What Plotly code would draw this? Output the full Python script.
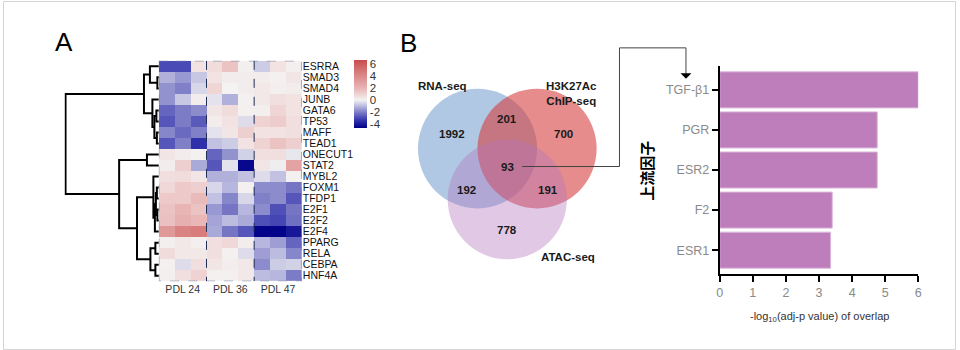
import plotly.graph_objects as go

W, H = 960, 350

# ---------------- data ----------------
genes = ["ESRRA", "SMAD3", "SMAD4", "JUNB", "GATA6", "TP53", "MAFF", "TEAD1",
         "ONECUT1", "STAT2", "MYBL2", "FOXM1", "TFDP1", "E2F1", "E2F2", "E2F4",
         "PPARG", "RELA", "CEBPA", "HNF4A"]
groups = ["PDL 24", "PDL 36", "PDL 47"]
z_vals = [
    [-3.0, -3.0, 0.5, 0.7, 1.5, 0.1, -0.7, 0.5, 0.1],      # ESRRA
    [-1.2, -1.6, -0.8, 0.5, 0.2, 0.2, 0.2, 0.05, 0.4],     # SMAD3
    [-1.7, -2.0, -0.5, 0.9, 0.0, 0.2, 0.3, 0.1, 0.2],      # SMAD4
    [-1.7, -0.8, 0.2, -0.3, -1.2, 0.05, 0.3, 0.6, 0.5],    # JUNB
    [-2.5, -2.1, -1.8, 0.4, 0.7, 0.05, 0.1, 0.9, 0.5],     # GATA6
    [-2.8, -2.1, -2.7, 0.2, 0.5, -0.4, 1.0, 1.2, 0.6],     # TP53
    [-1.9, -2.4, -2.0, -0.3, 0.4, 1.1, 0.5, 0.5, 0.6],     # MAFF
    [-2.8, -2.0, -3.5, -0.9, -0.7, 0.5, 1.0, 1.5, 1.1],    # TEAD1
    [0.4, 0.2, 0.05, -2.5, -1.7, -0.6, 0.6, 0.6, -0.2],    # ONECUT1
    [0.2, 1.1, -1.3, -2.8, -0.3, -4.5, 0.4, -0.1, 2.8],    # STAT2
    [0.6, 0.7, 0.4, -1.2, -1.2, -0.9, -0.4, -0.9, 0.05],   # MYBL2
    [0.8, 1.3, 1.1, -0.5, -1.1, 0.05, -1.8, -1.8, -2.2],   # FOXM1
    [1.3, 1.3, 1.8, -0.9, -1.9, -0.5, -2.0, -1.8, -2.8],   # TFDP1
    [1.5, 2.0, 1.5, -1.6, -2.2, -1.1, -1.8, -2.9, -2.2],   # E2F1
    [1.6, 2.2, 1.9, -1.4, -1.0, -1.3, -2.9, -3.1, -2.3],   # E2F2
    [3.3, 4.3, 4.6, -1.3, -2.2, -2.8, -4.6, -4.6, -4.1],   # E2F4
    [0.1, 0.3, 0.1, 0.6, 0.8, 0.2, -1.1, -1.5, -2.5],      # PPARG
    [0.7, 0.3, 0.3, 0.6, 0.05, -0.4, -1.5, -1.0, -1.9],    # RELA
    [0.05, -0.4, 0.6, 0.4, 0.15, 0.3, -1.8, -0.7, -0.6],   # CEBPA
    [0.1, 0.6, 1.0, 0.05, 0.05, 0.3, -1.0, -1.1, -2.1],    # HNF4A
]
colorbar_ticks = [-4, -2, 0, 2, 4, 6]
colorbar_labels = ["-4", "-2", "0", "2", "4", "6"]

# dendrogram merges: (node, child_a, child_b, height)
dendro_merges = [
    ("n1", "SMAD3", "SMAD4", 1.5),
    ("n2", "ESRRA", "n1", 9),
    ("n3", "GATA6", "TP53", 2.5),
    ("n4", "MAFF", "TEAD1", 2),
    ("n5", "n3", "n4", 4.5),
    ("n6", "JUNB", "n5", 6.5),
    ("n7", "n2", "n6", 15),
    ("m1", "ONECUT1", "STAT2", 12),
    ("r1", "FOXM1", "TFDP1", 2),
    ("r2", "E2F1", "E2F2", 1.5),
    ("r3", "r1", "r2", 3),
    ("r4", "r3", "E2F4", 4),
    ("r5", "MYBL2", "r4", 5.5),
    ("b1", "PPARG", "RELA", 3.5),
    ("b2", "CEBPA", "HNF4A", 3.5),
    ("b3", "b1", "b2", 8.5),
    ("m2", "r5", "b3", 22),
    ("m3", "m1", "m2", 40),
    ("root", "n7", "m3", 94),
]

venn_sets = ["RNA-seq", "H3K27Ac<br>ChIP-seq", "ATAC-seq"]
venn_counts = {"R": 1992, "RH": 201, "H": 700, "RHA": 93, "RA": 192, "HA": 191, "A": 778}

factors = ["TGF-β1", "PGR", "ESR2", "F2", "ESR1"]
neglogp = [6.0, 4.76, 4.76, 3.40, 3.35]
bar_ticks = [0, 1, 2, 3, 4, 5, 6]

FONT = "Arial, 'Liberation Sans', sans-serif"


def px_x(p):
    return p / W


def px_y(p):
    return 1 - p / H


fig = go.Figure()

# ---------------- heatmap ----------------
zmin, zmax = -4.7, 6.7


def cs(v):
    return (v - zmin) / (zmax - zmin)


colorscale = [
    [0.0, "#000088"],
    [cs(-3.6), "#2a2aa6"],
    [cs(-3.0), "#4a4ab6"],
    [cs(-2.0), "#8080c8"],
    [cs(-1.0), "#bcbce0"],
    [cs(0.0), "#f4f2f2"],
    [cs(1.0), "#efd2d2"],
    [cs(2.0), "#e8b4b4"],
    [cs(4.0), "#dc8a8a"],
    [1.0, "#c94c4c"],
]

fig.add_trace(go.Heatmap(
    z=z_vals, x=list(range(9)), y=list(range(len(genes))),
    colorscale=colorscale, zmin=zmin, zmax=zmax,
    xaxis="x", yaxis="y", hoverinfo="skip",
    colorbar=dict(
        x=px_x(354), xanchor="left", y=px_y(59), yanchor="top",
        len=68 / H, lenmode="fraction", thickness=13,
        tickvals=colorbar_ticks, ticktext=colorbar_labels, ticks="", outlinewidth=0,
        xpad=0, ypad=0, tickfont=dict(family=FONT, size=11.5, color="#333"),
    ),
))

# dendrogram
pos = {g: (i, 0.0) for i, g in enumerate(genes)}
dx, dy = [], []
for node, a, b, h in dendro_merges:
    ya, ha = pos[a]
    yb, hb = pos[b]
    dx += [ha, h, h, hb, None]
    dy += [ya, ya, yb, yb, None]
    pos[node] = ((ya + yb) / 2, h)
fig.add_trace(go.Scatter(x=dx, y=dy, mode="lines", xaxis="x2", yaxis="y2",
                         line=dict(color="black", width=2), hoverinfo="skip",
                         showlegend=False))

hm_top, hm_bot = 60, 281
layout_axes = dict(
    xaxis=dict(domain=[px_x(157), px_x(301)], range=[-0.5, 8.5], anchor="y",
               tickvals=[1, 4, 7], ticktext=groups, ticks="", showgrid=False,
               zeroline=False, showline=False,
               tickfont=dict(family=FONT, size=10.5, color="#333")),
    yaxis=dict(domain=[px_y(hm_bot), px_y(hm_top)], range=[len(genes) - 0.5, -0.5],
               anchor="x", side="right", tickvals=list(range(len(genes))),
               ticktext=genes, ticks="", showgrid=False, zeroline=False,
               tickfont=dict(family=FONT, size=10.5, color="#111")),
    xaxis2=dict(domain=[px_x(62), px_x(157)], range=[95, 0], anchor="y2",
                visible=False),
    yaxis2=dict(domain=[px_y(hm_bot), px_y(hm_top)], range=[len(genes) - 0.5, -0.5],
                anchor="x2", visible=False),
    xaxis3=dict(domain=[0, 1], range=[0, W], anchor="y3", visible=False),
    yaxis3=dict(domain=[0, 1], range=[H, 0], anchor="x3", visible=False),
    xaxis4=dict(domain=[px_x(722), px_x(922)], range=[0, 6], anchor="y4",
                tickvals=bar_ticks, showline=True, linecolor="black", linewidth=2,
                ticks="outside", ticklen=6, tickwidth=1.5, tickcolor="black",
                showgrid=False, zeroline=False,
                tickfont=dict(family=FONT, size=12.5, color="#8a8a8a")),
    yaxis4=dict(domain=[px_y(274), px_y(65)], range=[4.6, -0.6], anchor="x4",
                type="category", showline=True, linecolor="black", linewidth=2,
                ticks="outside", ticklen=6, tickwidth=1.5, tickcolor="black",
                showgrid=False, zeroline=False,
                tickfont=dict(family=FONT, size=12.5, color="#8a8a8a")),
)

shapes = []
# heatmap dashed frame and group separators
shapes.append(dict(type="rect", xref="x", yref="y", x0=-0.5, x1=8.5, y0=-0.5,
                   y1=len(genes) - 0.5, line=dict(color="#6f7f9f", width=1, dash="dash"),
                   layer="above"))
for sx in [2.5, 5.5]:
    shapes.append(dict(type="line", xref="x", yref="y", x0=sx, x1=sx, y0=-0.5,
                       y1=len(genes) - 0.5, line=dict(color="#1f2f55", width=1, dash="dash"),
                       layer="above"))

# ---------------- Venn ----------------
venn_circles = [  # cx, cy, r, fill
    (478, 148, 60, "rgba(97,145,201,0.5)"),
    (538, 148, 60, "rgba(213,63,63,0.6)"),
    (508, 199, 60, "rgba(180,118,188,0.4)"),
]
for cx, cy, r, col in venn_circles:
    shapes.append(dict(type="circle", xref="x3", yref="y3", x0=cx - r, x1=cx + r,
                       y0=cy - r, y1=cy + r, fillcolor=col, line=dict(width=0),
                       layer="below"))

# connector line from overlap to bar chart
fig.add_trace(go.Scatter(x=[523, 621, 621, 688, 688], y=[166, 166, 47, 47, 73],
                         mode="lines", xaxis="x3", yaxis="y3",
                         line=dict(color="#444", width=1), hoverinfo="skip",
                         showlegend=False))
shapes.append(dict(type="path", xref="x3", yref="y3",
                   path="M 682.5 72.5 L 693.5 72.5 L 688 78 Z",
                   fillcolor="black", line=dict(width=0), layer="above"))

# whole-figure border
shapes.append(dict(type="rect", xref="paper", yref="paper", x0=0.5 / W, x1=1 - 0.5 / W,
                   y0=0.5 / H, y1=1 - 0.5 / H, line=dict(color="#d4d4d4", width=1)))

annotations = []


def ann(x, y, text, size=11.5, bold=True, color="#1a1a1a", **kw):
    annotations.append(dict(x=x, y=y, xref="x3", yref="y3", text=("<b>%s</b>" % text) if bold else text,
                            showarrow=False, font=dict(family=FONT, size=size, color=color),
                            xanchor=kw.pop("xanchor", "center"), yanchor=kw.pop("yanchor", "middle"),
                            **kw))


ann(443, 85, venn_sets[0])
ann(573, 93, venn_sets[1])
ann(569, 257, venn_sets[2])
ann(452, 133, str(venn_counts["R"]))
ann(508, 118, str(venn_counts["RH"]))
ann(565, 133, str(venn_counts["H"]))
ann(508, 166, str(venn_counts["RHA"]))
ann(467, 190, str(venn_counts["RA"]))
ann(549, 190, str(venn_counts["HA"]))
ann(508, 230, str(venn_counts["A"]))

# panel letters
ann(61, 41, "A", size=26, bold=False, color="black")
ann(408, 42, "B", size=26, bold=False, color="black")

# bar chart titles
ann(822, 317, "-log<sub>10</sub>(adj-p value) of overlap", size=11, bold=False, color="#333")
annotations.append(dict(x=648, y=170, xref="x3", yref="y3", text="<b>上流因子</b>",
                        showarrow=False, textangle=-90,
                        font=dict(family="'Noto Sans CJK SC', sans-serif", size=15, color="black")))

# ---------------- bar chart ----------------
fig.add_trace(go.Bar(x=neglogp, y=factors, orientation="h", xaxis="x4", yaxis="y4",
                     width=0.9, marker=dict(color="#bd7ebb", line=dict(color="#dcb8dc", width=1)),
                     hoverinfo="skip", showlegend=False))

fig.update_layout(
    width=W, height=H, autosize=False,
    margin=dict(l=0, r=0, t=0, b=0),
    paper_bgcolor="white", plot_bgcolor="rgba(0,0,0,0)",
    showlegend=False, shapes=shapes, annotations=annotations,
    font=dict(family=FONT),
    **layout_axes,
)

fig.write_html("out.html")
